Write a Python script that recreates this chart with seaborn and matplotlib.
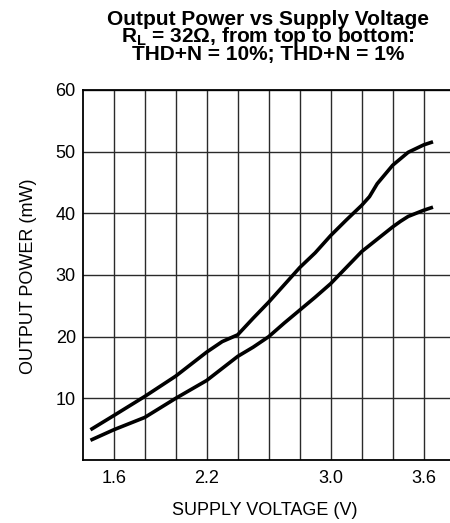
import matplotlib
matplotlib.use("Agg")
import matplotlib.pyplot as plt
import seaborn as sns
import pandas as pd

# ---- data ----
v_thd10 = [1.45, 1.6, 1.8, 2.0, 2.2, 2.3, 2.4, 2.5, 2.6, 2.7, 2.8, 2.9, 3.0, 3.1, 3.2, 3.25, 3.3, 3.4, 3.5, 3.6, 3.66]
p_thd10 = [4.9, 7.2, 10.3, 13.6, 17.5, 19.2, 20.3, 23.0, 25.6, 28.4, 31.2, 33.6, 36.4, 38.9, 41.3, 42.7, 44.8, 47.8, 49.9, 51.1, 51.6]
v_thd1 = [1.45, 1.6, 1.8, 2.0, 2.2, 2.4, 2.5, 2.6, 2.7, 2.8, 2.9, 3.0, 3.1, 3.2, 3.3, 3.4, 3.45, 3.5, 3.6, 3.66]
p_thd1 = [3.2, 4.9, 6.9, 10.0, 12.9, 16.8, 18.3, 20.0, 22.2, 24.3, 26.4, 28.6, 31.2, 33.8, 35.8, 37.8, 38.7, 39.5, 40.5, 41.0]
series_names = ["THD+N = 10%", "THD+N = 1%"]

x_ticks = [1.6, 1.8, 2.0, 2.2, 2.4, 2.6, 2.8, 3.0, 3.2, 3.4, 3.6]
x_tick_labels = ["1.6", "", "", "2.2", "", "", "", "3.0", "", "", "3.6"]
y_ticks = [10, 20, 30, 40, 50, 60]
y_tick_labels = ["10", "20", "30", "40", "50", "60"]

title_lines = ["Output Power vs Supply Voltage",
               r"R$_\mathrm{L}$ = 32Ω, from top to bottom:",
               "THD+N = 10%; THD+N = 1%"]
x_label = "SUPPLY VOLTAGE (V)"
y_label = "OUTPUT POWER (mW)"

df = pd.concat([
    pd.DataFrame({"V": v_thd10, "P": p_thd10, "series": series_names[0]}),
    pd.DataFrame({"V": v_thd1, "P": p_thd1, "series": series_names[1]}),
])

sns.set_theme(style="white")
plt.rcParams["font.family"] = ["Liberation Sans", "DejaVu Sans"]
plt.rcParams["mathtext.fontset"] = "custom"
plt.rcParams["mathtext.rm"] = "Liberation Sans:bold"
plt.rcParams["mathtext.default"] = "rm"

W, H = 450, 523
fig = plt.figure(figsize=(W / 100, H / 100), dpi=100)
left, right, top, bottom = 82.7, 450, 90, 460
ax = fig.add_axes([left / W, 1 - bottom / H, (right - left) / W, (bottom - top) / H])

sns.lineplot(data=df, x="V", y="P", hue="series", palette=["black", "black"],
             estimator=None, sort=False, linewidth=2.6, legend=False, ax=ax)
for ln in ax.lines:
    ln.set_solid_capstyle("butt")
    ln.set_solid_joinstyle("round")
    ln.set_zorder(3)

ax.set_xlim(1.4, 1.4 + (right - left) / 155.0)
ax.set_ylim(0, 60)
ax.set_xticks(x_ticks)
ax.set_xticklabels(x_tick_labels)
ax.set_yticks(y_ticks)
ax.set_yticklabels(y_tick_labels)
ax.grid(True, color="#2a2a2a", linewidth=1.0)
ax.set_axisbelow(True)
ax.tick_params(axis="both", length=0, labelsize=13, colors="black")
ax.tick_params(axis="x", pad=7)
ax.tick_params(axis="y", pad=5)

for s in ["left", "bottom", "top"]:
    ax.spines[s].set_visible(True)
    ax.spines[s].set_color("black")
    ax.spines[s].set_linewidth(1.3)
ax.spines["right"].set_visible(False)

ax.set_xlabel(x_label, fontsize=13, color="black")
ax.set_ylabel(y_label, fontsize=13, color="black")
ax.xaxis.set_label_coords((265 - left) / (right - left), (bottom - 502) / (bottom - top))
ax.yaxis.set_label_coords((37 - left) / (right - left), (bottom - 276) / (bottom - top))

fig.text(268 / W, 1 - 10 / H, "\n".join(title_lines), ha="center", va="top",
         multialignment="center", linespacing=0.77,
         fontsize=15, fontweight="bold", color="black")

fig.savefig("out.png", dpi=100)
